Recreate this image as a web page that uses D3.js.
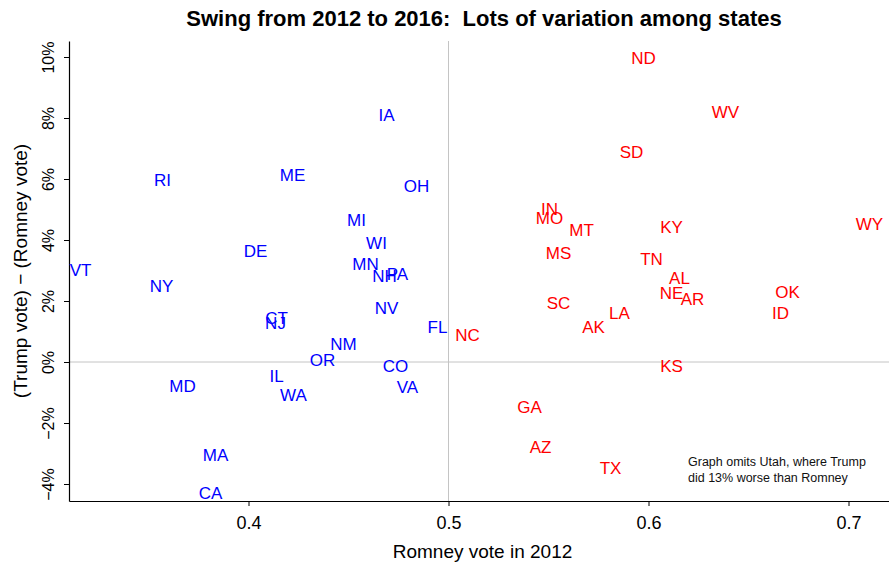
<!DOCTYPE html>
<html>
<head>
<meta charset="utf-8">
<script src="https://cdn.jsdelivr.net/npm/d3@7"></script>
<style>
  body { margin: 0; background: #fff; }
  text { font-family: "Liberation Sans", Arial, sans-serif; }
</style>
</head>
<body>
<div id="chart"></div>
<script>
// state abbreviations, Romney 2012 share, and Trump - Romney swing
var states = ["VT","RI","NY","DE","ME","CT","NJ","IA","OH","MI","WI","MN","NH","PA","NV","FL",
              "NM","OR","CO","VA","IL","WA","MD","MA","CA",
              "NC","GA","AZ","TX","KS","ND","WV","SD","IN","MO","MT","KY","WY","MS","TN",
              "AL","NE","AR","OK","ID","SC","LA","AK"];
var romney = [0.316,0.357,0.3565,0.4035,0.422,0.414,0.4135,0.469,0.484,0.454,0.464,0.4585,0.468,0.4745,0.469,0.4945,
              0.4475,0.437,0.4735,0.4795,0.414,0.4225,0.367,0.3835,0.381,
              0.5095,0.5405,0.546,0.581,0.6115,0.5975,0.6385,0.5915,0.5505,0.5505,0.5665,0.6115,0.7105,0.555,0.6015,
              0.6155,0.6115,0.622,0.6695,0.666,0.555,0.5855,0.5725];
var swing = [0.0302,0.0597,0.0249,0.0364,0.0613,0.0144,0.0128,0.0810,0.0577,0.0466,0.0390,0.0321,0.0282,0.0289,0.0177,0.0115,
             0.0059,0.0007,-0.0013,-0.0082,-0.0046,-0.0108,-0.0079,-0.0305,-0.0430,
             0.0089,-0.0148,-0.0279,-0.0348,-0.0013,0.0997,0.0820,0.0689,0.0502,0.0472,0.0433,0.0443,0.0452,0.0357,0.0338,
             0.0275,0.0226,0.0207,0.0230,0.0161,0.0193,0.0161,0.0115];
var xTicks = [0.4, 0.5, 0.6, 0.7];
var yTicks = [-0.04, -0.02, 0, 0.02, 0.04, 0.06, 0.08, 0.10];

var data = states.map(function(s, i) {
    return {state: s, romney: romney[i], swing: swing[i]};
});

var W = 889, H = 566;
var margin = {top: 41, right: 0, bottom: 65, left: 69},
    width = W - margin.left - margin.right,
    height = H - margin.top - margin.bottom;

var svg = d3.select("#chart")
            .append("svg")
            .attr("width", W)
            .attr("height", H);

var g = svg.append("g").attr("transform", "translate(" + margin.left + "," + margin.top + ")");

var x = d3.scaleLinear()
          .domain([0.31025, 0.72025])
          .range([0, width]);

var y = d3.scaleLinear()
          .domain([-0.04557, 0.10525])
          .range([height, 0]);

// reference lines at 50% and zero swing
g.append("line")
    .attr("x1", x(0.5)).attr("x2", x(0.5))
    .attr("y1", 0).attr("y2", height)
    .attr("stroke", "#c4c4c4").attr("stroke-width", 1);
g.append("line")
    .attr("x1", 0).attr("x2", width)
    .attr("y1", y(0)).attr("y2", y(0))
    .attr("stroke", "#c4c4c4").attr("stroke-width", 1);

// axes
var xAxis = g.append("g")
    .attr("transform", "translate(0," + height + ")")
    .call(d3.axisBottom(x).tickValues(xTicks).tickFormat(d3.format(".1f")).tickSize(5).tickSizeOuter(0).tickPadding(10));
xAxis.selectAll("text").attr("font-size", 18).attr("fill", "#000");

var yAxis = g.append("g")
    .call(d3.axisLeft(y).tickValues(yTicks).tickFormat(d3.format(".0%")).tickSize(5).tickSizeOuter(0));
yAxis.selectAll("text")
    .attr("font-size", 16)
    .attr("fill", "#000")
    .attr("text-anchor", "middle")
    .attr("x", 0)
    .attr("y", 0)
    .attr("dy", "0")
    .attr("transform", "translate(-15,0) rotate(-90)");

svg.selectAll(".domain").attr("stroke", "#000").attr("stroke-width", 1.2);

// state labels
g.selectAll(".state")
    .data(data)
    .enter().append("text")
    .attr("class", "state")
    .attr("x", function(d) { return x(d.romney); })
    .attr("y", function(d) { return y(d.swing); })
    .attr("dy", "0.35em")
    .attr("text-anchor", "middle")
    .attr("font-size", 17)
    .attr("fill", function(d) { return d.romney < 0.5 ? "blue" : "red"; })
    .text(function(d) { return d.state; });

// titles
svg.append("text")
    .attr("x", 484).attr("y", 26)
    .attr("text-anchor", "middle")
    .attr("font-size", 22)
    .attr("font-weight", "bold")
    .style("white-space", "pre")
    .text("Swing from 2012 to 2016:  Lots of variation among states");

svg.append("text")
    .attr("x", margin.left + x(0.5) + 34).attr("y", 558)
    .attr("text-anchor", "middle")
    .attr("font-size", 19)
    .text("Romney vote in 2012");

svg.append("text")
    .attr("transform", "translate(27," + (margin.top + height / 2) + ") rotate(-90)")
    .attr("text-anchor", "middle")
    .attr("font-size", 19)
    .text("(Trump vote) \u2212 (Romney vote)");

// note about Utah
var note = svg.append("text")
    .attr("x", 688).attr("y", 466)
    .attr("font-size", 12.5)
    .attr("fill", "#111");
note.append("tspan").attr("x", 688).text("Graph omits Utah, where Trump");
note.append("tspan").attr("x", 688).attr("dy", 16).text("did 13% worse than Romney");
</script>
</body>
</html>
